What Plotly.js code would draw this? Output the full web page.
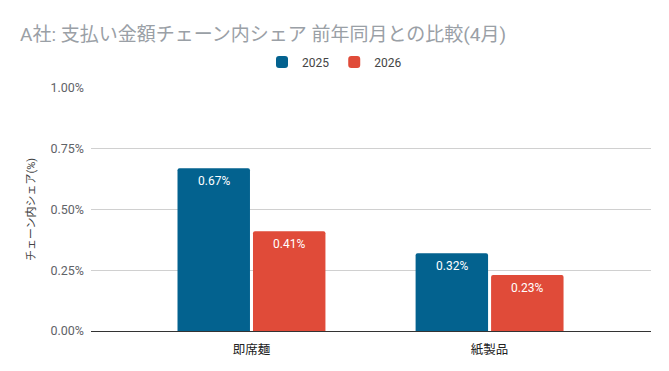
<!DOCTYPE html>
<html>
<head>
<meta charset="utf-8">
<script src="https://cdn.plot.ly/plotly-3.0.1.min.js"></script>
<style>html,body{margin:0;padding:0;background:#fff;}#chart{width:669px;height:371px;}</style>
</head>
<body>
<div id="chart"></div>
<script>
const categories = ["即席麺", "紙製品"];
const seriesNames = ["2025", "2026"];
const values2025 = [0.0067, 0.0032];
const values2026 = [0.0041, 0.0023];
const labels2025 = ["0.67%", "0.32%"];
const labels2026 = ["0.41%", "0.23%"];
const yTicks = [0, 0.0025, 0.005, 0.0075, 0.01];
const yTickText = ["0.00%", "0.25%", "0.50%", "0.75%", "1.00%"];

const FONT = "Roboto, 'Noto Sans CJK JP', sans-serif";

const traces = [
  {type: "bar", name: seriesNames[0], x: categories, y: values2025,
   marker: {color: "#03628f", cornerradius: 2}, hoverinfo: "none"},
  {type: "bar", name: seriesNames[1], x: categories, y: values2026,
   marker: {color: "#e04b39", cornerradius: 2}, hoverinfo: "none"}
];

// data labels placed at each bar's value, shifted to its slot in the group
const annotations = [];
const seriesVals = [values2025, values2026];
const seriesLabels = [labels2025, labels2026];
const slotShift = [-37.75, 37.75];
seriesVals.forEach((vals, s) => {
  vals.forEach((v, i) => {
    annotations.push({
      x: categories[i], y: v, xref: "x", yref: "y",
      text: seriesLabels[s][i], showarrow: false,
      xanchor: "center", yanchor: "middle",
      xshift: slotShift[s], yshift: -13,
      font: {family: FONT, size: 12, color: "#ffffff"}
    });
  });
});

const layout = {
  width: 669, height: 371,
  margin: {l: 91, r: 18, t: 88, b: 40, pad: 0},
  paper_bgcolor: "#ffffff", plot_bgcolor: "#ffffff",
  font: {family: FONT, size: 12, color: "#444"},
  barmode: "group",
  bargap: 0.366,
  bargroupgap: 0.04,
  annotations: annotations,
  title: {
    text: "A社: 支払い金額チェーン内シェア 前年同月との比較(4月)",
    font: {family: FONT, size: 19, color: "#9aa0a6"},
    xref: "container", x: 20/669, xanchor: "left",
    yref: "container", y: 1 - 34/371, yanchor: "middle"
  },
  showlegend: true,
  legend: {
    orientation: "h",
    xref: "container", x: 0.5, xanchor: "center",
    yref: "container", y: 1 - 62/371, yanchor: "middle",
    font: {family: FONT, size: 12, color: "#444"},
    itemwidth: 30, traceorder: "normal"
  },
  xaxis: {
    type: "category",
    range: [-0.674, 1.678],
    showgrid: false,
    zeroline: false,
    showline: false,
    ticks: "",
    ticklabelstandoff: 9,
    tickfont: {family: FONT, size: 12.5, color: "#222"},
    fixedrange: true
  },
  yaxis: {
    range: [0, 0.01],
    tickvals: yTicks,
    ticktext: yTickText,
    showgrid: true,
    gridcolor: "#d0d0d0",
    gridwidth: 1,
    zeroline: true,
    zerolinecolor: "#333333",
    zerolinewidth: 1,
    ticks: "",
    ticklabelstandoff: 6,
    tickfont: {family: FONT, size: 12.5, color: "#5f6368"},
    title: {text: "チェーン内シェア(%)", font: {family: FONT, size: 11, color: "#444"}, standoff: 12},
    fixedrange: true
  }
};

Plotly.newPlot("chart", traces, layout, {displayModeBar: false, staticPlot: true});
</script>
</body>
</html>
